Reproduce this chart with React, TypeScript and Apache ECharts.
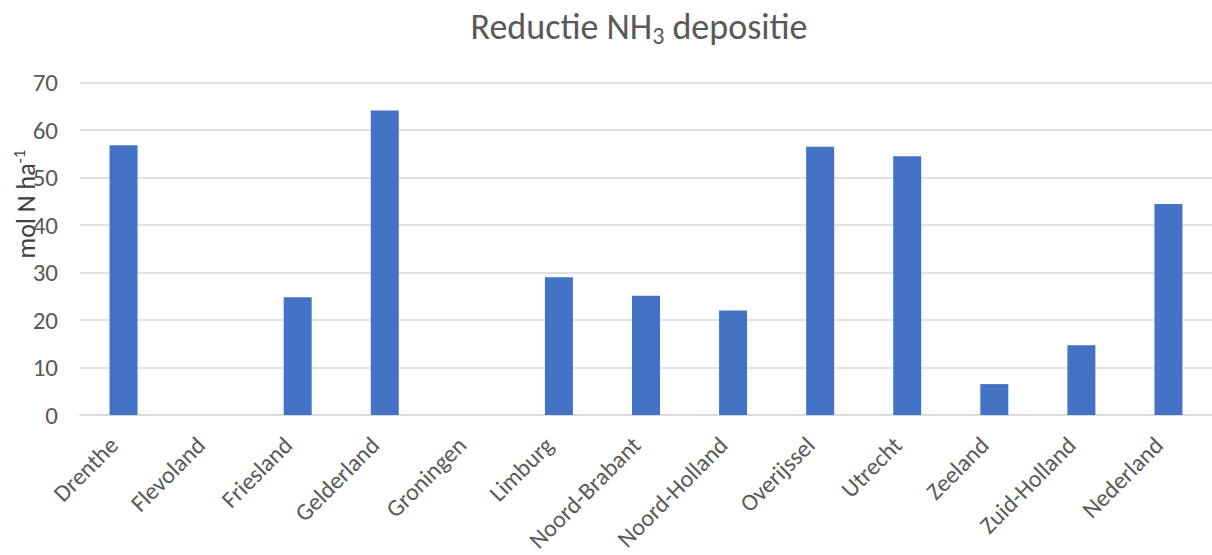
import React, { useEffect, useRef } from "react";
import * as echarts from "echarts";

const categories = [
  "Drenthe",
  "Flevoland",
  "Friesland",
  "Gelderland",
  "Groningen",
  "Limburg",
  "Noord-Brabant",
  "Noord-Holland",
  "Overijssel",
  "Utrecht",
  "Zeeland",
  "Zuid-Holland",
  "Nederland",
];
const reductie = [56.8, 0, 24.8, 64.1, 0, 29.0, 25.1, 22.0, 56.5, 54.5, 6.5, 14.7, 44.4];
const yTicks = { min: 0, max: 70, interval: 10 };

const FONT = "Carlito, Lato, 'Open Sans', sans-serif";
const GREY = "#595959";

export default function App() {
  const ref = useRef<HTMLDivElement>(null);
  useEffect(() => {
    if (!ref.current) return;
    const chart = echarts.init(ref.current, null, { renderer: "svg" });
    chart.setOption({
      animation: false,
      backgroundColor: "#ffffff",
      title: {
        text: "{a|Reductie NH}{b|3}{a| depositie}",
        left: 634,
        textAlign: "center",
        top: 1,
        textStyle: {
          fontWeight: "normal",
          rich: {
            a: { fontFamily: FONT, fontSize: 36, fontWeight: "normal", color: GREY },
            b: { fontFamily: FONT, fontSize: 24, fontWeight: "normal", color: GREY, padding: [17, 0, 0, 0] },
          },
        },
      },
      grid: { left: 80, right: -4, top: 82.5, bottom: 140, containLabel: false },
      xAxis: {
        type: "category",
        data: categories,
        axisLine: { show: true, lineStyle: { color: "#d9d9d9", width: 1.5 } },
        axisTick: { show: false },
        axisLabel: {
          rotate: 45,
          interval: 0,
          margin: 16,
          padding: [0, 14, 0, 0],
          color: GREY,
          fontFamily: FONT,
          fontSize: 24,
        },
      },
      yAxis: {
        type: "value",
        min: yTicks.min,
        max: yTicks.max,
        interval: yTicks.interval,
        axisLine: { show: false },
        axisTick: { show: false },
        axisLabel: { margin: 22, color: GREY, fontFamily: FONT, fontSize: 25 },
        splitLine: { lineStyle: { color: "#d9d9d9", width: 1.5 } },
      },
      graphic: [
        {
          type: "text",
          x: 26,
          y: 204,
          rotation: Math.PI / 2,
          style: {
            text: "{a|mol N ha}{b|-1}",
            align: "center",
            verticalAlign: "middle",
            rich: {
              a: { fontFamily: FONT, fontSize: 26, fill: "#404040", color: "#404040" },
              b: { fontFamily: FONT, fontSize: 17, fill: "#404040", color: "#404040", padding: [0, 0, 13, 0] },
            },
          },
        },
      ],
      series: [
        {
          type: "bar",
          data: reductie,
          barWidth: 28,
          itemStyle: { color: "#4472C4" },
        },
      ],
    });
    return () => chart.dispose();
  }, []);
  return (
    <div
      ref={ref}
      style={{ position: "absolute", left: 0, top: 0, width: 1212, height: 555 }}
    />
  );
}
